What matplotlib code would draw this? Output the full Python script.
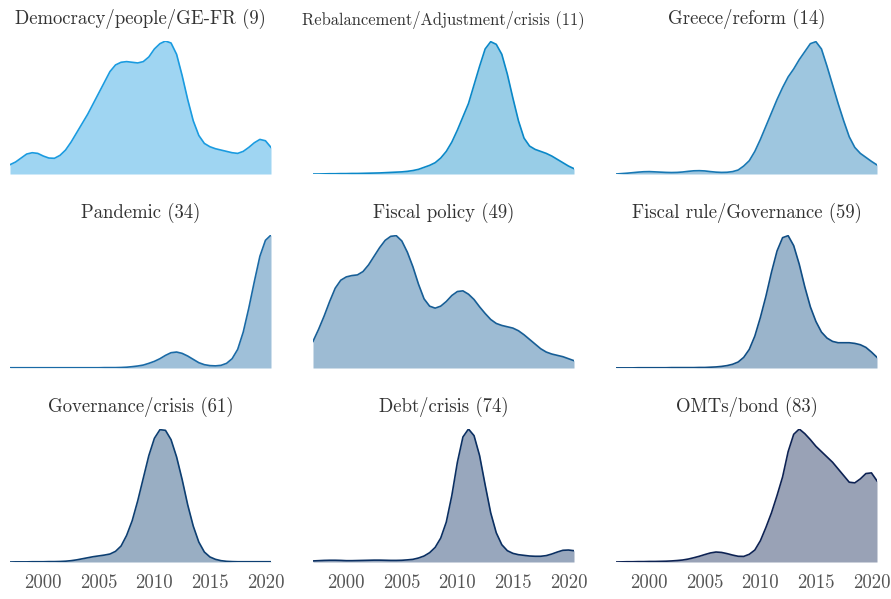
import matplotlib
matplotlib.use("Agg")
import matplotlib.pyplot as plt

plt.rcParams['font.family'] = ['cmr10', 'DejaVu Serif']
plt.rcParams['axes.formatter.use_mathtext'] = True

# sample years (half-year steps) shared by all panels
YEARS = [1997.0, 1997.5, 1998.0, 1998.5, 1999.0, 1999.5, 2000.0, 2000.5,
         2001.0, 2001.5, 2002.0, 2002.5, 2003.0, 2003.5, 2004.0, 2004.5,
         2005.0, 2005.5, 2006.0, 2006.5, 2007.0, 2007.5, 2008.0, 2008.5,
         2009.0, 2009.5, 2010.0, 2010.5, 2011.0, 2011.5, 2012.0, 2012.5,
         2013.0, 2013.5, 2014.0, 2014.5, 2015.0, 2015.5, 2016.0, 2016.5,
         2017.0, 2017.5, 2018.0, 2018.5, 2019.0, 2019.5, 2020.0, 2020.5]

TITLES = ['Democracy/people/GE-FR (9)', 'Rebalancement/Adjustment/crisis (11)',
          'Greece/reform (14)', 'Pandemic (34)', 'Fiscal policy (49)',
          'Fiscal rule/Governance (59)', 'Governance/crisis (61)',
          'Debt/crisis (74)', 'OMTs/bond (83)']

# relative density (peak = 1)
democracy = [0.07, 0.09, 0.12, 0.15, 0.16, 0.155, 0.135, 0.12,
             0.118, 0.14, 0.18, 0.24, 0.31, 0.38, 0.45, 0.53,
             0.61, 0.69, 0.77, 0.82, 0.84, 0.845, 0.84, 0.835,
             0.845, 0.88, 0.94, 0.98, 1.0, 0.985, 0.9, 0.74,
             0.56, 0.40, 0.29, 0.23, 0.205, 0.19, 0.18, 0.17,
             0.16, 0.155, 0.17, 0.2, 0.235, 0.26, 0.25, 0.2]
rebalancement = [0.0, 0.0, 0.001, 0.002, 0.002, 0.003, 0.003, 0.004,
                 0.004, 0.005, 0.006, 0.007, 0.008, 0.01, 0.012, 0.014,
                 0.016, 0.02, 0.026, 0.035, 0.05, 0.065, 0.085, 0.12,
                 0.17, 0.24, 0.33, 0.43, 0.53, 0.67, 0.81, 0.94,
                 0.995, 0.975, 0.9, 0.75, 0.57, 0.4, 0.27, 0.21,
                 0.185, 0.17, 0.155, 0.135, 0.11, 0.085, 0.06, 0.04]
greece = [0.0, 0.003, 0.006, 0.01, 0.014, 0.017, 0.018, 0.016,
          0.014, 0.012, 0.011, 0.012, 0.015, 0.02, 0.024, 0.025,
          0.023, 0.018, 0.014, 0.012, 0.013, 0.018, 0.03, 0.06,
          0.1, 0.17, 0.26, 0.36, 0.46, 0.56, 0.65, 0.73,
          0.79, 0.86, 0.92, 0.98, 0.995, 0.94, 0.81, 0.67,
          0.53, 0.4, 0.28, 0.2, 0.155, 0.125, 0.095, 0.068]
pandemic = [0.002, 0.002, 0.002, 0.002, 0.002, 0.002, 0.002, 0.002,
            0.002, 0.002, 0.002, 0.002, 0.002, 0.002, 0.002, 0.002,
            0.002, 0.003, 0.003, 0.003, 0.004, 0.006, 0.01, 0.015,
            0.022, 0.035, 0.05, 0.07, 0.095, 0.115, 0.12, 0.11,
            0.09, 0.065, 0.04, 0.025, 0.018, 0.016, 0.02, 0.035,
            0.07, 0.14, 0.27, 0.45, 0.65, 0.84, 0.96, 1.0]
fiscal_policy = [0.2, 0.29, 0.39, 0.5, 0.6, 0.66, 0.685, 0.695,
                 0.7, 0.725, 0.775, 0.84, 0.905, 0.96, 0.99, 0.995,
                 0.955, 0.87, 0.76, 0.63, 0.52, 0.465, 0.45, 0.465,
                 0.5, 0.545, 0.575, 0.58, 0.555, 0.515, 0.46, 0.41,
                 0.365, 0.335, 0.32, 0.31, 0.3, 0.28, 0.25, 0.215,
                 0.18, 0.145, 0.12, 0.105, 0.095, 0.085, 0.07, 0.055]
fiscal_rule = [0.001, 0.001, 0.001, 0.001, 0.002, 0.002, 0.002, 0.002,
               0.002, 0.002, 0.003, 0.003, 0.003, 0.003, 0.003, 0.004,
               0.004, 0.006, 0.008, 0.012, 0.018, 0.028, 0.045, 0.08,
               0.14, 0.24, 0.38, 0.54, 0.72, 0.88, 0.98, 0.995,
               0.92, 0.78, 0.61, 0.46, 0.35, 0.27, 0.225, 0.2,
               0.19, 0.19, 0.19, 0.185, 0.175, 0.155, 0.12, 0.08]
governance = [0.0, 0.001, 0.001, 0.001, 0.002, 0.002, 0.002, 0.003,
              0.003, 0.004, 0.006, 0.01, 0.016, 0.024, 0.032, 0.04,
              0.046, 0.052, 0.06, 0.08, 0.12, 0.2, 0.31, 0.46,
              0.63, 0.8, 0.93, 0.995, 0.99, 0.92, 0.79, 0.62,
              0.43, 0.27, 0.15, 0.075, 0.038, 0.02, 0.01, 0.005,
              0.003, 0.002, 0.002, 0.002, 0.002, 0.002, 0.002, 0.002]
debt = [0.008, 0.01, 0.012, 0.013, 0.013, 0.012, 0.01, 0.01,
        0.011, 0.012, 0.013, 0.014, 0.014, 0.013, 0.012, 0.012,
        0.013, 0.016, 0.02, 0.03, 0.045, 0.07, 0.11, 0.18,
        0.3, 0.5, 0.75, 0.94, 1.0, 0.95, 0.8, 0.58,
        0.37, 0.22, 0.13, 0.085, 0.065, 0.055, 0.05, 0.045,
        0.043, 0.043, 0.048, 0.06, 0.075, 0.088, 0.09, 0.085]
omts = [0.0, 0.001, 0.002, 0.002, 0.003, 0.003, 0.004, 0.004,
        0.005, 0.006, 0.008, 0.011, 0.015, 0.022, 0.032, 0.043,
        0.056, 0.068, 0.075, 0.072, 0.063, 0.052, 0.043, 0.042,
        0.058, 0.09, 0.16, 0.26, 0.37, 0.5, 0.64, 0.83,
        0.96, 1.0, 0.965, 0.92, 0.87, 0.83, 0.79, 0.75,
        0.7, 0.65, 0.6, 0.595, 0.625, 0.665, 0.67, 0.61]

SERIES = [democracy, rebalancement, greece, pandemic, fiscal_policy,
          fiscal_rule, governance, debt, omts]

LINE_COLORS = ['#1a9be0', '#0a88c8', '#1878b4', '#1a6aa6', '#175e96',
               '#104e85', '#0d3f72', '#0a2f62', '#0d2253']

TICKS = [2000, 2005, 2010, 2015, 2020]
TICK_LABELS = ['2000', '2005', '2010', '2015', '2020']

fig = plt.figure(figsize=(8.91, 5.99), dpi=100)

col_left = [10 / 891, 313 / 891, 616 / 891]
row_bottom = [1 - 174 / 599, 1 - 368 / 599, 1 - 562 / 599]
w, h = 261 / 891, 133 / 599

for i, (title, vals, c) in enumerate(zip(TITLES, SERIES, LINE_COLORS)):
    r, k = divmod(i, 3)
    ax = fig.add_axes([col_left[k], row_bottom[r], w, h])
    ax.fill_between(YEARS, vals, 0, color=c, alpha=0.42, linewidth=0)
    ax.plot(YEARS, vals, color=c, linewidth=1.2, solid_joinstyle='round')
    ax.set_xlim(1997.0, 2020.5)
    ax.set_ylim(0, 1.0)
    for s in ax.spines.values():
        s.set_visible(False)
    ax.set_yticks([])
    ax.set_xticks(TICKS)
    if r == 2:
        ax.set_xticklabels(TICK_LABELS, fontsize=13.5, color='#555555')
    else:
        ax.set_xticklabels([])
    ax.tick_params(axis='x', length=0, pad=9)
    fs = 11.9 if i == 1 else 13.5
    ax.set_title(title, fontsize=fs, color='#333333', pad=12)

fig.savefig('out.png', dpi=100)
